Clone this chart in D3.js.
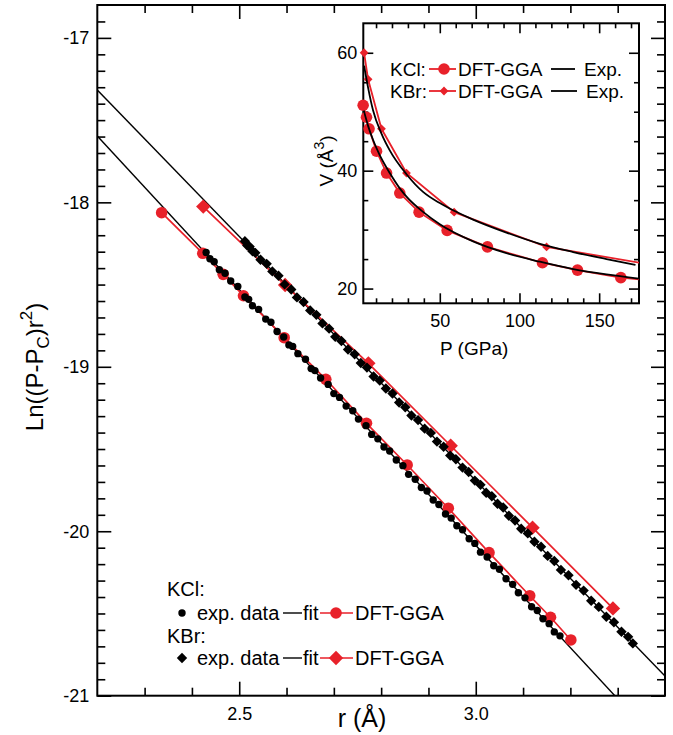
<!DOCTYPE html>
<html>
<head>
<meta charset="utf-8">
<script src="https://cdn.jsdelivr.net/npm/d3@7"></script>
<style>
  body { margin: 0; background: #fff; }
  text { font-family: "Liberation Sans", Arial, Helvetica, sans-serif; fill: #000; }
</style>
</head>
<body>
<svg id="chart" width="673" height="735"></svg>
<script>
// Main plot: Ln((P-Pc) r^2) against r
var rDomain = [2.2, 3.4];
var lnDomain = [-21, -16.8];
var rTicks = [2.5, 3.0];
var lnTicks = [-21, -20, -19, -18, -17];

// KCl experimental points
var kclExpR = [2.430, 2.438, 2.447, 2.458, 2.470, 2.482, 2.497, 2.512, 2.520, 2.528, 2.541, 2.556, 2.567, 2.580,
  2.594, 2.605, 2.613, 2.624, 2.640, 2.652, 2.660, 2.672, 2.688, 2.700, 2.712, 2.726, 2.740, 2.752, 2.768, 2.780,
  2.793, 2.806, 2.818, 2.832, 2.846, 2.858, 2.872, 2.885, 2.897, 2.910, 2.922, 2.936, 2.948, 2.960, 2.972, 2.986,
  2.998, 3.010, 3.024, 3.038, 3.050, 3.064, 3.078, 3.090, 3.104, 3.118, 3.130, 3.142, 3.155, 3.166, 3.178];
var kclExpLn = [-18.305, -18.343, -18.361, -18.410, -18.431, -18.478, -18.511, -18.576, -18.590, -18.629, -18.651,
  -18.710, -18.729, -18.785, -18.819, -18.867, -18.876, -18.920, -18.954, -19.011, -19.023, -19.068, -19.107,
  -19.163, -19.186, -19.239, -19.267, -19.318, -19.358, -19.411, -19.438, -19.488, -19.512, -19.567, -19.601,
  -19.654, -19.684, -19.734, -19.755, -19.810, -19.837, -19.895, -19.920, -19.967, -19.991, -20.046, -20.074,
  -20.127, -20.157, -20.210, -20.231, -20.289, -20.323, -20.374, -20.405, -20.459, -20.482, -20.532, -20.562,
  -20.612, -20.636];

// KBr experimental points
var kbrExpR = [2.512, 2.517, 2.522, 2.528, 2.534, 2.545, 2.558, 2.570, 2.583, 2.596, 2.610, 2.622, 2.636, 2.650,
  2.663, 2.676, 2.690, 2.703, 2.716, 2.730, 2.744, 2.757, 2.770, 2.784, 2.797, 2.810, 2.824, 2.838, 2.851, 2.864,
  2.878, 2.892, 2.905, 2.918, 2.932, 2.946, 2.958, 2.972, 2.985, 2.998, 3.010, 3.022, 3.034, 3.046, 3.058, 3.070,
  3.083, 3.096, 3.110, 3.124, 3.138, 3.152, 3.166, 3.180, 3.196, 3.212, 3.228, 3.244, 3.260, 3.276, 3.292, 3.308,
  3.322, 3.332];
var kbrExpLn = [-18.237, -18.262, -18.269, -18.297, -18.307, -18.349, -18.374, -18.420, -18.446, -18.499, -18.530,
  -18.578, -18.606, -18.657, -18.684, -18.736, -18.768, -18.818, -18.843, -18.895, -18.924, -18.977, -19.005,
  -19.059, -19.084, -19.132, -19.162, -19.217, -19.246, -19.296, -19.324, -19.376, -19.402, -19.455, -19.486,
  -19.540, -19.562, -19.613, -19.640, -19.692, -19.718, -19.766, -19.787, -19.833, -19.856, -19.906, -19.935,
  -19.985, -20.013, -20.064, -20.094, -20.150, -20.181, -20.235, -20.268, -20.326, -20.361, -20.423, -20.460,
  -20.520, -20.553, -20.611, -20.642, -20.682];

// linear fits
var fitR = [2.2, 3.4];
var kclFitLn = [-17.597, -21.330];
var kbrFitLn = [-17.317, -20.880];

// DFT-GGA
var kclDftR = [2.336, 2.423, 2.466, 2.509, 2.595, 2.683, 2.769, 2.855, 2.942, 3.028, 3.114, 3.158, 3.201];
var kclDftLn = [-18.063, -18.310, -18.438, -18.568, -18.823, -19.076, -19.344, -19.597, -19.860, -20.130,
  -20.392, -20.523, -20.661];
var kbrDftR = [2.424, 2.597, 2.773, 2.947, 3.120, 3.290];
var kbrDftLn = [-18.026, -18.503, -18.979, -19.480, -19.978, -20.469];

// Inset: V against P
var pDomain = [2, 175];
var vDomain = [17.5, 65];
var pTicks = [50, 100, 150];
var vTicks = [20, 40, 60];

var kclGgaP = [1.9, 4.0, 5.6, 10.3, 16.6, 24.9, 37.0, 54.6, 79.9, 114.4, 136.4, 163.6, 190];
var kclGgaV = [51.1, 49.06, 47.1, 43.3, 39.6, 36.2, 32.96, 29.87, 27.07, 24.38, 23.13, 21.85, 21.16];
var kbrGgaP = [2.5, 5.0, 13.4, 29.1, 59.0, 117.0, 190];
var kbrGgaV = [60.0, 55.5, 47.1, 39.6, 32.96, 27.07, 23.7];

var kclObsP = [2.3, 5, 8.15, 12, 18.6, 24.9, 29.1, 39.5, 50, 70.9, 91.8, 112.8, 133.7, 154.6, 175];
var kclObsV = [50.2, 47.6, 45.2, 42.8, 39.6, 37.0, 35.6, 33.0, 30.9, 28.0, 26.0, 24.55, 23.3, 22.4, 21.7];
var kbrObsP = [2.5, 5.0, 8.15, 13.4, 18.6, 29.1, 39.5, 50, 59, 70.9, 91.8, 112.8, 133.7, 154.6, 172.8];
var kbrObsV = [57.8, 54.1, 50.2, 46.3, 43.45, 39.4, 36.4, 34.5, 33.2, 31.7, 29.5, 27.6, 26.2, 25.0, 24.0];

var RED = "#e8212a";

var svg = d3.select("#chart");

function diamond(h) {
  return "M0," + (-h) + "L" + h + ",0L0," + h + "L" + (-h) + ",0Z";
}

function zip(a, b) {
  return a.map(function (v, i) { return [v, b[i]]; });
}

// plain hyphen instead of the unicode minus d3 uses
function hyphen(f) {
  return function (v) { return f(v).replace("\u2212", "-"); };
}

// axis pair: minor ticks without labels, major ticks with labels
function ticks(g, axis, scale, majors, minors, bigLen, smallLen, fmt, pad, fontSize) {
  var minorG = g.append("g").call(axis(scale).tickValues(minors).tickSize(-smallLen).tickFormat(""));
  var majorG = g.append("g").call(axis(scale).tickValues(majors).tickSize(-bigLen).tickPadding(pad)
    .tickFormat(fmt ? fmt : ""));
  [minorG, majorG].forEach(function (s) {
    s.select(".domain").remove();
    s.selectAll("line").attr("stroke", "#000").attr("stroke-width", 1.6);
    s.attr("font-family", null).attr("font-size", fontSize);
  });
}

// ---------- main plot ----------
var M = { left: 97.3, right: 665, top: 5, bottom: 695.7 };
var x = d3.scaleLinear().domain(rDomain).range([M.left, M.right]);
var y = d3.scaleLinear().domain(lnDomain).range([M.bottom, M.top]);

svg.append("clipPath").attr("id", "clipMain").append("rect")
  .attr("x", M.left).attr("y", M.top).attr("width", M.right - M.left).attr("height", M.bottom - M.top);

var rMinor = d3.range(2.3, 3.35, 0.1).filter(function (v) { return Math.abs(v - 2.5) > 1e-6 && Math.abs(v - 3.0) > 1e-6; });
var lnMinor = d3.range(-20.9, -16.85, 0.1).filter(function (v) { return Math.abs(v - Math.round(v)) > 1e-6; });

var axG = svg.append("g");
ticks(axG.append("g").attr("transform", "translate(0," + M.bottom + ")"), d3.axisBottom, x, rTicks, rMinor, 14, 8, d3.format(".1f"), 12, 18);
ticks(axG.append("g").attr("transform", "translate(0," + M.top + ")"), d3.axisTop, x, rTicks, rMinor, 14, 8, null, 0, 18);
ticks(axG.append("g").attr("transform", "translate(" + M.left + ",0)"), d3.axisLeft, y, lnTicks, lnMinor, 14, 8, hyphen(d3.format("d")), 8, 18);
ticks(axG.append("g").attr("transform", "translate(" + M.right + ",0)"), d3.axisRight, y, lnTicks, lnMinor, 14, 8, null, 0, 18);
axG.selectAll("text").attr("fill", "#000");

var plot = svg.append("g");
var line = d3.line().x(function (d) { return x(d[0]); }).y(function (d) { return y(d[1]); });

// fits
[kclFitLn, kbrFitLn].forEach(function (f) {
  plot.append("path").datum(zip(fitR, f)).attr("d", line).attr("clip-path", "url(#clipMain)")
    .attr("fill", "none").attr("stroke", "#000").attr("stroke-width", 1.4);
});

// DFT-GGA lines and markers
plot.append("path").datum(zip(kclDftR, kclDftLn)).attr("d", line)
  .attr("fill", "none").attr("stroke", RED).attr("stroke-width", 1.7);
plot.append("path").datum(zip(kbrDftR, kbrDftLn)).attr("d", line)
  .attr("fill", "none").attr("stroke", RED).attr("stroke-width", 1.7);
plot.selectAll(".kclDft").data(zip(kclDftR, kclDftLn)).enter().append("circle")
  .attr("cx", function (d) { return x(d[0]); }).attr("cy", function (d) { return y(d[1]); })
  .attr("r", 5.8).attr("fill", RED);
plot.selectAll(".kbrDft").data(zip(kbrDftR, kbrDftLn)).enter().append("path")
  .attr("transform", function (d) { return "translate(" + x(d[0]) + "," + y(d[1]) + ")"; })
  .attr("d", diamond(7.2)).attr("fill", RED);

// experimental points
plot.selectAll(".kclExp").data(zip(kclExpR, kclExpLn)).enter().append("circle")
  .attr("cx", function (d) { return x(d[0]); }).attr("cy", function (d) { return y(d[1]); })
  .attr("r", 3.7).attr("fill", "#000");
plot.selectAll(".kbrExp").data(zip(kbrExpR, kbrExpLn)).enter().append("path")
  .attr("transform", function (d) { return "translate(" + x(d[0]) + "," + y(d[1]) + ")"; })
  .attr("d", diamond(5.2)).attr("fill", "#000");

svg.append("rect").attr("x", M.left).attr("y", M.top).attr("width", M.right - M.left).attr("height", M.bottom - M.top)
  .attr("fill", "none").attr("stroke", "#000").attr("stroke-width", 2);

// axis titles
var yt = svg.append("text").attr("transform", "translate(43,367) rotate(-90)")
  .attr("text-anchor", "middle").attr("font-size", 24);
yt.append("tspan").text("Ln((P-P");
yt.append("tspan").attr("font-size", 17).attr("dy", 6).text("C");
yt.append("tspan").attr("dy", -6).text(")r");
yt.append("tspan").attr("font-size", 17).attr("dy", -11).text("2");
yt.append("tspan").attr("dy", 11).text(")");

svg.append("text").attr("x", 362).attr("y", 727).attr("text-anchor", "middle").attr("font-size", 25).text("r (Å)");

// main legend
var lg = svg.append("g").attr("font-size", 20);
lg.append("text").attr("x", 167).attr("y", 596).text("KCl:");
lg.append("text").attr("x", 167).attr("y", 643).text("KBr:");
[613, 658].forEach(function (cy, i) {
  if (i === 0) lg.append("circle").attr("cx", 182).attr("cy", cy).attr("r", 3.7).attr("fill", "#000");
  else lg.append("path").attr("transform", "translate(182," + cy + ")").attr("d", diamond(5.2)).attr("fill", "#000");
  lg.append("text").attr("x", 197).attr("y", cy + 7).text("exp. data");
  lg.append("line").attr("x1", 283).attr("x2", 302).attr("y1", cy).attr("y2", cy).attr("stroke", "#000").attr("stroke-width", 1.4);
  lg.append("text").attr("x", 303).attr("y", cy + 7).text("fit");
  lg.append("line").attr("x1", 320).attr("x2", 353).attr("y1", cy).attr("y2", cy).attr("stroke", RED).attr("stroke-width", 1.7);
  if (i === 0) lg.append("circle").attr("cx", 336).attr("cy", cy).attr("r", 5.8).attr("fill", RED);
  else lg.append("path").attr("transform", "translate(336," + cy + ")").attr("d", diamond(7.2)).attr("fill", RED);
  lg.append("text").attr("x", 355).attr("y", cy + 7).text("DFT-GGA");
});

// ---------- inset ----------
var I = { left: 363.3, right: 639, top: 23.3, bottom: 303.3 };
var px = d3.scaleLinear().domain(pDomain).range([I.left, I.right]);
var vy = d3.scaleLinear().domain(vDomain).range([I.bottom, I.top]);

svg.append("rect").attr("x", I.left).attr("y", I.top).attr("width", I.right - I.left).attr("height", I.bottom - I.top)
  .attr("fill", "#fff");
svg.append("clipPath").attr("id", "clipInset").append("rect")
  .attr("x", I.left).attr("y", I.top).attr("width", I.right - I.left).attr("height", I.bottom - I.top);

var pMinor = d3.range(10, 171, 10).filter(function (v) { return v % 50 !== 0; });
var vMinor = [25, 30, 35, 45, 50, 55];
var inAx = svg.append("g");
ticks(inAx.append("g").attr("transform", "translate(0," + I.bottom + ")"), d3.axisBottom, px, pTicks, pMinor, 10, 5, d3.format("d"), 11, 18);
ticks(inAx.append("g").attr("transform", "translate(0," + I.top + ")"), d3.axisTop, px, pTicks, pMinor, 10, 5, null, 0, 18);
ticks(inAx.append("g").attr("transform", "translate(" + I.left + ",0)"), d3.axisLeft, vy, vTicks, vMinor, 10, 5, d3.format("d"), 6, 18);
ticks(inAx.append("g").attr("transform", "translate(" + I.right + ",0)"), d3.axisRight, vy, vTicks, vMinor, 10, 5, null, 0, 18);
inAx.selectAll("text").attr("fill", "#000");

svg.append("rect").attr("x", I.left).attr("y", I.top).attr("width", I.right - I.left).attr("height", I.bottom - I.top)
  .attr("fill", "none").attr("stroke", "#000").attr("stroke-width", 2);

var ins = svg.append("g");
var pline = d3.line().x(function (d) { return px(d[0]); }).y(function (d) { return vy(d[1]); });
var smooth = d3.line().curve(d3.curveMonotoneX).x(function (d) { return px(d[0]); }).y(function (d) { return vy(d[1]); });

ins.append("path").datum(zip(kclGgaP, kclGgaV)).attr("d", pline).attr("clip-path", "url(#clipInset)")
  .attr("fill", "none").attr("stroke", RED).attr("stroke-width", 1.8);
ins.append("path").datum(zip(kbrGgaP, kbrGgaV)).attr("d", pline).attr("clip-path", "url(#clipInset)")
  .attr("fill", "none").attr("stroke", RED).attr("stroke-width", 1.8);
ins.selectAll(".kclGga").data(zip(kclGgaP, kclGgaV).filter(function (d) { return d[0] <= pDomain[1]; }))
  .enter().append("circle")
  .attr("cx", function (d) { return px(d[0]); }).attr("cy", function (d) { return vy(d[1]); })
  .attr("r", 5.8).attr("fill", RED);
ins.selectAll(".kbrGga").data(zip(kbrGgaP, kbrGgaV).filter(function (d) { return d[0] <= pDomain[1]; }))
  .enter().append("path")
  .attr("transform", function (d) { return "translate(" + px(d[0]) + "," + vy(d[1]) + ")"; })
  .attr("d", diamond(4.4)).attr("fill", RED);

ins.append("path").datum(zip(kclObsP, kclObsV)).attr("d", smooth).attr("clip-path", "url(#clipInset)")
  .attr("fill", "none").attr("stroke", "#000").attr("stroke-width", 1.8);
ins.append("path").datum(zip(kbrObsP, kbrObsV)).attr("d", smooth).attr("clip-path", "url(#clipInset)")
  .attr("fill", "none").attr("stroke", "#000").attr("stroke-width", 1.8);

// inset titles
svg.append("text").attr("x", 440).attr("y", 355).attr("font-size", 19).text("P (GPa)");
var vt = svg.append("text").attr("transform", "translate(333,161) rotate(-90)")
  .attr("text-anchor", "middle").attr("font-size", 19);
vt.append("tspan").text("V (Å");
vt.append("tspan").attr("font-size", 14).attr("dy", -9).text("3");
vt.append("tspan").attr("dy", 9).text(")");

// inset legend
var il = svg.append("g").attr("font-size", 19);
[[69, "KCl:"], [91, "KBr:"]].forEach(function (row, i) {
  var cy = row[0];
  il.append("text").attr("x", 390).attr("y", cy + 7).text(row[1]);
  il.append("line").attr("x1", 429).attr("x2", 456).attr("y1", cy).attr("y2", cy).attr("stroke", RED).attr("stroke-width", 1.8);
  if (i === 0) il.append("circle").attr("cx", 444).attr("cy", cy).attr("r", 5.8).attr("fill", RED);
  else il.append("path").attr("transform", "translate(444," + cy + ")").attr("d", diamond(4.4)).attr("fill", RED);
  il.append("text").attr("x", 458).attr("y", cy + 7).text("DFT-GGA");
  il.append("line").attr("x1", 551).attr("x2", i === 0 ? 575 : 577).attr("y1", cy).attr("y2", cy).attr("stroke", "#000").attr("stroke-width", 1.8);
  il.append("text").attr("x", i === 0 ? 584 : 586).attr("y", cy + 7).text("Exp.");
});
</script>
</body>
</html>
